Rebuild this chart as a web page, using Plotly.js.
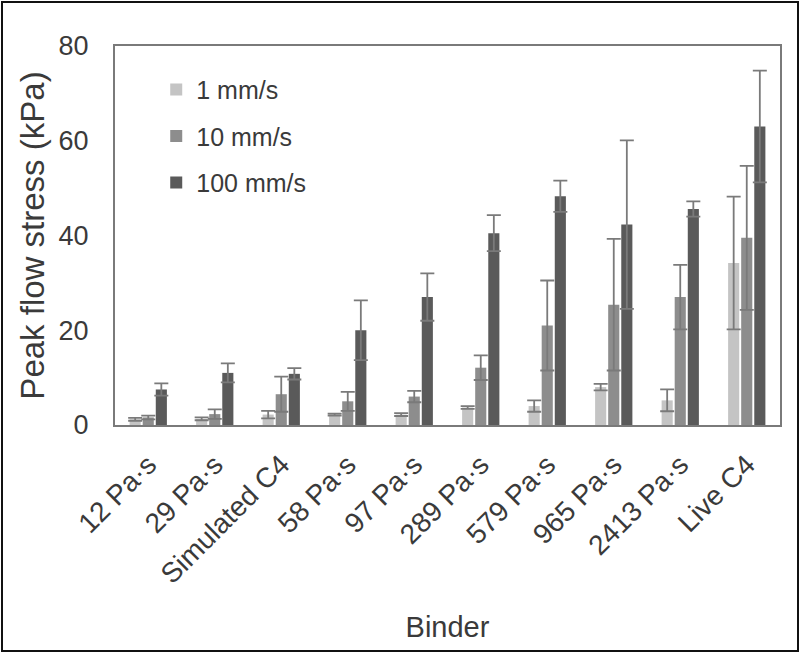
<!DOCTYPE html>
<html>
<head>
<meta charset="utf-8">
<script src="https://cdn.plot.ly/plotly-3.0.1.min.js"></script>
<style>
  html, body { margin: 0; padding: 0; background: #fff; }
  #chart { width: 800px; height: 654px; }
  #frame { position: absolute; left: 1px; top: 1px; width: 794px; height: 647px; border: 2px solid #111; pointer-events: none; }
</style>
</head>
<body>
<div id="chart"></div>
<div id="frame"></div>
<script>
const categories = ["12 Pa·s", "29 Pa·s", "Simulated C4", "58 Pa·s", "97 Pa·s", "289 Pa·s", "579 Pa·s", "965 Pa·s", "2413 Pa·s", "Live C4"];
const seriesNames = ["1 mm/s", "10 mm/s", "100 mm/s"];
const v1 = [1.2, 1.3, 2.2, 2.2, 2.2, 3.7, 4.0, 8.0, 5.2, 34.2];
const e1 = [0.3, 0.3, 0.8, 0.2, 0.3, 0.3, 1.2, 0.7, 2.3, 14.0];
const v10 = [1.6, 2.3, 6.5, 5.0, 6.0, 12.1, 21.0, 25.4, 27.0, 39.5];
const e10 = [0.4, 1.0, 3.7, 2.0, 1.2, 2.6, 9.5, 13.9, 6.8, 15.2];
const v100 = [7.5, 11.0, 10.8, 20.0, 27.0, 40.5, 48.3, 42.3, 45.6, 63.0];
const e100 = [1.3, 2.0, 1.2, 6.3, 5.0, 3.8, 3.3, 17.8, 1.6, 11.8];
const yTicks = [0, 20, 40, 60, 80];

const colors = ["#c4c4c4", "#8d8d8d", "#5a5a5a"];
const vals = [v1, v10, v100];
const errs = [e1, e10, e100];

const traces = vals.map((v, i) => ({
  type: "bar",
  name: seriesNames[i],
  x: categories,
  y: v,
  legendgroup: "g" + i,
  marker: { color: colors[i], line: { width: 0 } },
  error_y: { type: "data", array: errs[i], visible: true, color: "#7a7a7a", thickness: 1.8, width: 7 }
}));

const layout = {
  width: 800, height: 654,
  margin: { l: 115, r: 20, t: 46, b: 229 },
  paper_bgcolor: "#fff", plot_bgcolor: "#fff",
  font: { family: "Liberation Sans, Arial, sans-serif", color: "#3a3a3a" },
  barmode: "group", bargap: 0.41, bargroupgap: 0.15,
  showlegend: true,
  legend: {
    x: 0.062, y: 0.945, xanchor: "left", yanchor: "top",
    bgcolor: "rgba(0,0,0,0)", font: { size: 25, color: "#3a3a3a" },
    tracegroupgap: 11, traceorder: "grouped"
  },
  xaxis: {
    type: "category", tickangle: -45, ticks: "",
    tickfont: { size: 28, color: "#3a3a3a" },
    showline: true, mirror: true, linecolor: "#7a7a7a", linewidth: 2,
    showgrid: false, zeroline: false,
    ticklabelstandoff: 10,
    title: { text: "Binder", font: { size: 29, color: "#3a3a3a" }, standoff: 28 }
  },
  yaxis: {
    range: [0, 80], tickvals: yTicks, ticktext: yTicks.map(String), ticks: "",
    tickfont: { size: 27, color: "#3a3a3a" },
    showline: true, mirror: true, linecolor: "#7a7a7a", linewidth: 2,
    showgrid: false, zeroline: false,
    ticklabelstandoff: 19,
    title: { text: "Peak flow stress (kPa)", font: { size: 33, color: "#3a3a3a" }, standoff: 4 }
  }
};

Plotly.newPlot("chart", traces, layout, { displayModeBar: false, staticPlot: true });
</script>
</body>
</html>
